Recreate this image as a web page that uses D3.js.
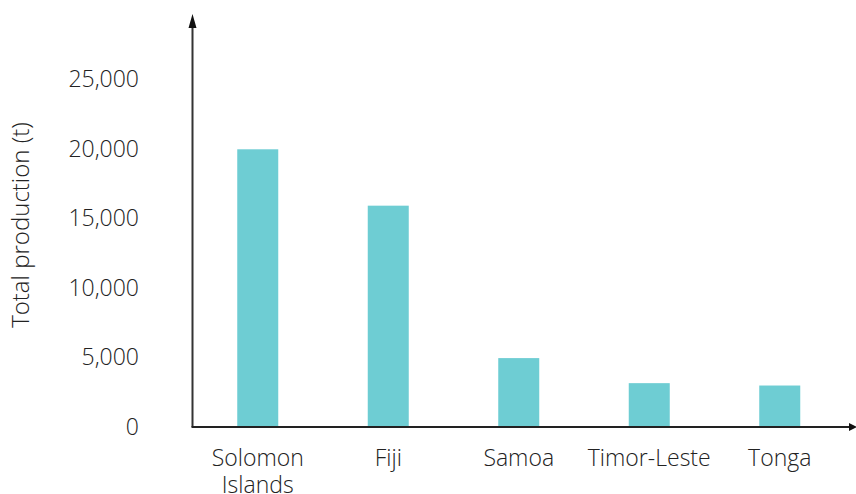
<!DOCTYPE html>
<html><head><meta charset="utf-8">
<script src="https://cdn.jsdelivr.net/npm/d3@7"></script>
<style>body{margin:0;background:#fff}svg text{font-family:"Open Sans",sans-serif;fill:#222}</style>
</head><body><svg id="c" width="856" height="494"></svg>
<script>
const categories = [["Solomon","Islands"],["Fiji"],["Samoa"],["Timor-Leste"],["Tonga"]];
const values = [19950, 15900, 4950, 3150, 2980];
const yTicks = [0, 5000, 10000, 15000, 20000, 25000];
const yTitle = "Total production (t)";

const svg = d3.select("#c");
const x0 = 192.5, x1 = 845, yBase = 427;
const x = d3.scaleBand().domain(d3.range(values.length)).range([x0, x1]).padding(0);
const y = d3.scaleLinear().domain([0, 25000]).range([yBase, 79]);
const bw = 41;
const fmt = d3.format(",");

svg.selectAll("rect.bar").data(values).join("rect")
  .attr("class","bar")
  .attr("x",(d,i)=>x(i)+x.bandwidth()/2-bw/2)
  .attr("width",bw)
  .attr("y",d=>y(d))
  .attr("height",d=>yBase-y(d))
  .attr("fill","#6ecdd3");

svg.selectAll("text.yt").data(yTicks).join("text")
  .attr("class","yt")
  .attr("x",139).attr("y",d=>y(d)).attr("dy","0.35em")
  .attr("text-anchor","end").attr("font-size",23).attr("font-weight",300)
  .text(d=>fmt(d));

categories.forEach((lines,i)=>{
  const cx = x(i)+x.bandwidth()/2;
  const t = svg.append("text").attr("text-anchor","middle").attr("font-size",23).attr("font-weight",300)
    .attr("x",cx).attr("y",466);
  lines.forEach((l,j)=>t.append("tspan").attr("x",cx).attr("dy",j===0?0:27).text(l));
});

svg.append("text").attr("transform","translate(29,225) rotate(-90)")
  .attr("text-anchor","middle").attr("font-size",24).attr("font-weight",300).text(yTitle);

svg.append("line").attr("x1",x0).attr("x2",x0).attr("y1",yBase).attr("y2",26).attr("stroke","#333").attr("stroke-width",2);
svg.append("path").attr("d",`M${x0-4},28 L${x0},14 L${x0+4},28 Z`).attr("fill","#111");
svg.append("line").attr("x1",x0-1).attr("x2",850).attr("y1",yBase).attr("y2",yBase).attr("stroke","#222").attr("stroke-width",2);
svg.append("path").attr("d",`M849,${yBase-4} L857,${yBase} L849,${yBase+4} Z`).attr("fill","#111");
</script></body></html>
